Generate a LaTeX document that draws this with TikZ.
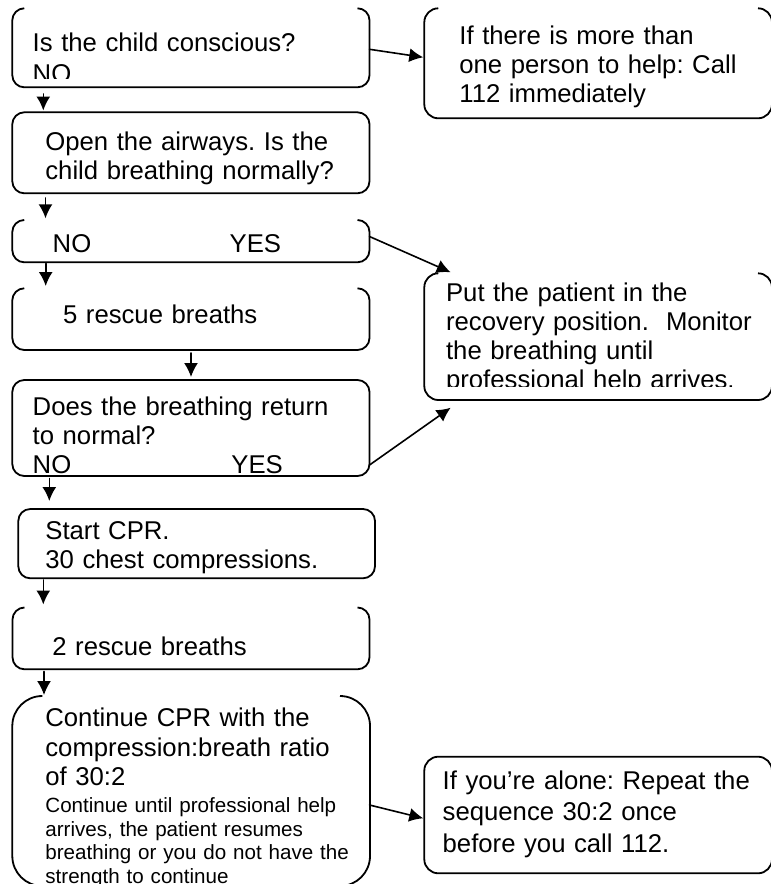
\documentclass[tikz,border=0pt]{standalone}
\usepackage{fontspec}
\setmainfont{Liberation Sans}
\usepackage{tkz-euclide}
\usetikzlibrary{arrows.meta}
\frenchspacing

\begin{document}
\begin{tikzpicture}[x=0.5pt, y=-0.5pt,
    box/.style={line width=0.9pt, rounded corners=6pt},
    flow/.style={->, >={Latex[length=7pt, width=7pt]}, line width=0.8pt},
    txt/.style={anchor=north west, inner sep=0pt, text width=250pt, align=left,
      font=\fontsize{12.85}{14.5}\selectfont},
    small/.style={txt, font=\fontsize{10.3}{11.85}\selectfont}]
      \useasboundingbox (0,0) rectangle (771,884);

      % left column boxes
      \draw[box] (24.3,8.3) -- (12.3,8.3) -- (12.3,87.3) -- (369.5,87.3) -- (369.5,8.3) -- (357.5,8.3);
      \draw[box] (12.3,112.3) rectangle (369.5,193.3);
      \draw[box] (24.3,220) -- (12.3,220) -- (12.3,262.3) -- (369.5,262.3) -- (369.5,220) -- (357.5,220);
      \draw[box] (24.3,288.3) -- (12.3,288.3) -- (12.3,350) -- (369.5,350) -- (369.5,288.3) -- (357.5,288.3);
      \draw[box] (12.3,380) rectangle (369.5,476);
      \draw[box] (18.3,509) rectangle (375,578.3);
      \draw[box] (24.5,607.5) -- (12.5,607.5) -- (12.5,669.3) -- (369.5,669.3) -- (369.5,607.5) -- (357.5,607.5);
      \draw[box, rounded corners=15pt] (42.3,696) -- (12.3,696) -- (12.3,886) -- (370,886) -- (370,696) -- (340,696);

      % right column boxes
      \draw[box, rounded corners=7pt] (438.3,8.3) -- (424.3,8.3) -- (424.3,118.3) -- (772,118.3) -- (772,8.3) -- (758,8.3);
      \draw[box, rounded corners=7pt] (438.3,273.3) -- (424.3,273.3) -- (424.3,400) -- (772,400) -- (772,273.3) -- (758,273.3);
      \draw[box, rounded corners=7pt] (424.3,756.7) rectangle (772,873.3);

      \begin{scope}
        \clip (12,8) rectangle (370,78.3);
        \node[txt, font=\fontsize{12.85}{15.45}\selectfont] (conscious) at (32.3,32.4) {Is the child conscious?\\NO};
      \end{scope}
      \node[txt] (airways) at (45,131) {Open the airways. Is the\\child breathing normally?};
      \node[txt] (choice) at (52.3,233.7) {\makebox[88.5pt][l]{NO}YES};
      \node[txt] (rescuefive) at (62.7,304.4) {5 rescue breaths};
      \node[txt] (normal) at (32.3,396) {Does the breathing return\\to normal?\\\makebox[99.35pt][l]{NO}YES};
      \node[txt] (startcpr) at (45,521) {Start CPR.\\30 chest compressions.};
      \node[txt] (rescuetwo) at (52,636.7) {2 rescue breaths};
      \node[txt, font=\fontsize{12.85}{14.75}\selectfont] (continuecpr) at (45,707.7) {Continue CPR with the\\compression:breath ratio\\of 30:2};
      \node[small] (untilhelp) at (45,797) {Continue until professional help\\arrives, the patient resumes\\breathing or you do not have the\\strength to continue};

      \node[txt] (morehelp) at (459,25.7) {If there is more than\\one person to help: Call\\112 immediately};
      \begin{scope}
        \clip (424,273) rectangle (772,386.7);
        \node[txt] (recovery) at (445.7,282.4) {Put the patient in the\\recovery position.\ \ Monitor\\the breathing until\\professional help arrives.};
      \end{scope}
      \node[txt, font=\fontsize{12.85}{15.85}\selectfont] (alone) at (442.3,770) {If you’re alone: Repeat the\\sequence 30:2 once\\before you call 112.};

      \tkzDefPoints{43.3/94/A, 43.3/110.5/B, 45.5/198/C, 45.5/218.3/D, 45.7/263.5/E, 45.7/286/F,
        191/353/G, 191/377/H, 49.3/478.5/I, 49.3/501/J, 43.3/580/K, 43.3/604.5/L, 44/671.5/M, 44/695/N}
      \tkzDefPoints{369.5/49.3/P, 423.3/57.3/Q, 369.5/236.5/R, 450.7/272.3/S,
        369.5/465/T, 450.7/407.7/U, 369.5/805/V, 423.3/818.3/W}
      \tkzDrawSegments[flow](A,B C,D E,F G,H I,J K,L M,N)
      \tkzDrawSegments[flow](P,Q R,S T,U V,W)
    \end{tikzpicture}
\end{document}
